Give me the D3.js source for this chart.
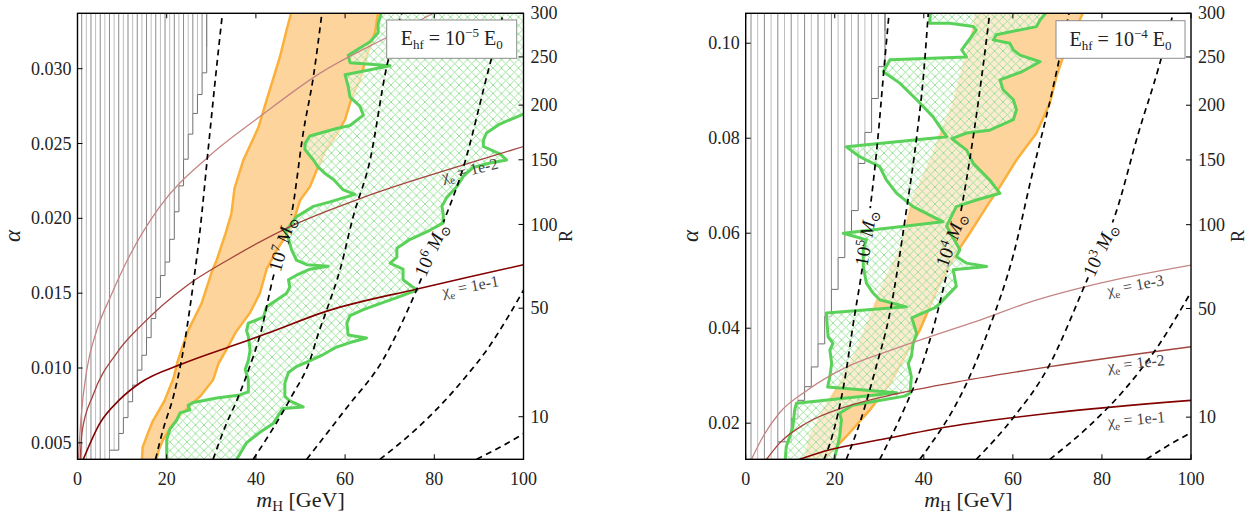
<!DOCTYPE html>
<html><head><meta charset="utf-8">
<script src="https://cdn.jsdelivr.net/npm/d3@7"></script>
<style>
body{margin:0;background:#fff}
text{font-family:"Liberation Serif","DejaVu Serif",serif;fill:#222}
</style>
</head><body>
<svg id="chart" width="1252" height="514"></svg>
<script>
// ---------------- axes / ticks ----------------
const massTicks = [0,20,40,60,80,100];
const rTicks = [10,50,100,150,200,250,300];
const alphaTicksLeft = [0.005,0.010,0.015,0.020,0.025,0.030];
const alphaTicksRight = [0.02,0.04,0.06,0.08,0.10];
const alphaDomainLeft = [0.0039,0.0337];
const alphaDomainRight = [0.0124,0.1063];
// R = k * alpha^2 - rOffset  (right-hand axis)
const rOffset = 2.1;
const kLeft = 266000, kRight = 26735;

// ---------------- left panel (E_hf = 1e-5 E0) ----------------
const leftExclusion = [[7.8,0.0039],[8.2,0.0045],[9.5,0.0059],[11.0,0.0074],[12.5,0.0090],[14.8,0.0112],[17.0,0.0139],[18.5,0.0161],[20.0,0.0174],[21.5,0.0201],[23.0,0.0226],[24.5,0.0252],[26.0,0.0272],[27.5,0.0290],[29.0,0.0315],[29.9,0.0337]];
const leftBandLeft = [[14.4,0.0035],[14.6,0.0047],[15.6,0.0055],[16.8,0.0064],[19.5,0.0078],[21.5,0.0093],[22.5,0.0105],[24.8,0.0125],[27.8,0.0143],[30.2,0.0165],[31.2,0.0172],[33.2,0.0190],[34.5,0.0203],[35.2,0.0220],[37.2,0.0239],[40.6,0.0261],[42.4,0.0279],[45.4,0.0308],[46.9,0.0326],[48.6,0.0345]];
const leftBandRight = [[67.8,0.0345],[66.7,0.0324],[64.8,0.0308],[63.3,0.0292],[61.5,0.0281],[60.0,0.0266],[58.3,0.0257],[55.5,0.0245],[53.6,0.0232],[52.1,0.0221],[49.9,0.0212],[48.0,0.0194],[44.7,0.0179],[42.4,0.0166],[40.9,0.0150],[38.7,0.0137],[35.5,0.0124],[33.5,0.0113],[31.6,0.0103],[30.4,0.0092],[27.5,0.0081],[26.0,0.0077],[23.0,0.0068],[21.0,0.0061],[19.2,0.0052],[18.2,0.0045],[17.4,0.0035]];
const leftSignal = [[20.0,0.0035],[20.0,0.0052],[20.7,0.0059],[22.2,0.0065],[23.0,0.0070],[25.2,0.0072],[24.8,0.0075],[26.0,0.0077],[31.2,0.0080],[36.4,0.0082],[38.3,0.0084],[38.3,0.0092],[37.6,0.0099],[38.3,0.0105],[38.7,0.0112],[38.3,0.0121],[37.9,0.0125],[38.3,0.0130],[41.7,0.0134],[42.4,0.0141],[46.9,0.0150],[47.6,0.0154],[47.3,0.0159],[49.1,0.0162],[52.1,0.0166],[56.2,0.0168],[51.4,0.0169],[49.1,0.0172],[48.0,0.0179],[47.3,0.0186],[46.5,0.0192],[47.3,0.0194],[49.1,0.0201],[52.9,0.0208],[56.6,0.0211],[62.2,0.0216],[59.6,0.0219],[57.4,0.0226],[55.5,0.0230],[54.0,0.0234],[52.9,0.0239],[51.0,0.0246],[51.0,0.0250],[52.1,0.0255],[58.1,0.0260],[61.1,0.0262],[64.1,0.0269],[63.3,0.0275],[61.1,0.0281],[60.7,0.0288],[60.0,0.0296],[70.1,0.0302],[61.1,0.0304],[60.7,0.0309],[65.6,0.0318],[67.4,0.0324],[67.4,0.0330],[68.9,0.0345],[101,0.0345],[101,0.0271],[94.7,0.0263],[91.7,0.0257],[91.0,0.0252],[91.0,0.0248],[94.7,0.0243],[96.2,0.0239],[92.5,0.0237],[88.7,0.0234],[86.5,0.0228],[85.0,0.0221],[82.8,0.0214],[81.7,0.0208],[82.0,0.0203],[82.0,0.0197],[79.0,0.0192],[74.6,0.0186],[71.6,0.0180],[71.6,0.0174],[70.1,0.0170],[73.0,0.0166],[73.0,0.0159],[76.1,0.0152],[71.6,0.0147],[67.8,0.0143],[64.1,0.0139],[61.1,0.0135],[60.4,0.0130],[60.7,0.0122],[64.8,0.0120],[61.1,0.0117],[58.1,0.0114],[55.1,0.0109],[51.4,0.0104],[49.1,0.0101],[47.3,0.0097],[46.5,0.0090],[46.5,0.0081],[47.6,0.0078],[50.6,0.0074],[46.1,0.0073],[45.4,0.0070],[43.9,0.0063],[40.9,0.0057],[37.9,0.0050],[34.9,0.0035]];
const leftMassA = [[17.5,0.0039],[19.2,0.0059],[21.5,0.0081],[23.3,0.0105],[25.9,0.0155],[27.4,0.0190],[29.3,0.0246],[30.8,0.0290],[32.5,0.0337]];
const leftMass7 = [[30.4,0.0039],[33.0,0.0060],[36.1,0.0081],[38.5,0.0100],[41.2,0.0125],[43.9,0.0161],[46.1,0.0183],[48.0,0.0203],[50.6,0.0257],[52.9,0.0295],[54.8,0.0337]];
const leftMassC = [[39.4,0.0039],[48.0,0.0081],[52.1,0.0105],[54.0,0.0123],[55.9,0.0139],[58.9,0.0166],[61.8,0.0201],[65.6,0.0239],[69.3,0.0301],[72.7,0.0337]];
const leftMass6 = [[51.4,0.0039],[60.5,0.0074],[68.4,0.0105],[76.0,0.0152],[81.6,0.0194],[86.5,0.0234],[92.3,0.0301],[95.5,0.0337]];
const leftMassE = [[67.8,0.0039],[75.5,0.0058],[82.0,0.0077],[87.0,0.0094],[92.0,0.0113],[96.5,0.0134],[100,0.0152]];
const leftMassF = [[89.5,0.0039],[94.7,0.0047],[100,0.0056]];
const leftChi3 = [[0.2,0.0039],[0.8,0.0067],[2.1,0.0099],[4.3,0.0125],[7.3,0.0147],[11.5,0.0174],[18.5,0.0208],[29.3,0.0241],[40.9,0.0268],[54.4,0.0297],[70.1,0.0322],[79.8,0.0337]];
const leftChi2 = [[0.6,0.0039],[1.0,0.0057],[3.5,0.0082],[8.8,0.0110],[14.8,0.0130],[24.5,0.0155],[34.2,0.0173],[47.3,0.0194],[64.1,0.0214],[88.0,0.0237],[100,0.0248]];
const leftChi1 = [[1.3,0.0039],[5.0,0.0063],[9.5,0.0079],[14.0,0.0090],[23.7,0.0103],[34.9,0.0115],[42.4,0.0123],[55.9,0.0138],[76.4,0.0153],[88.0,0.0161],[100,0.0169]];

// ---------------- right panel (E_hf = 1e-4 E0) ----------------
const rightExclusion = [[7.6,0.0124],[9.9,0.0200],[11.4,0.0242],[13.6,0.0284],[15.9,0.0354],[18.1,0.0439],[19.6,0.0495],[21.1,0.0565],[21.9,0.0586],[23.8,0.0649],[24.9,0.0733],[26.0,0.0775],[27.9,0.0867],[30.1,0.0965],[32.0,0.1063]];
const rightBandLeft = [[13.0,0.0115],[14.4,0.0172],[17.4,0.0228],[21.1,0.0284],[24.9,0.0354],[27.9,0.0424],[31.6,0.0509],[34.6,0.0565],[36.1,0.0621],[37.6,0.0677],[39.8,0.0719],[42.1,0.0768],[44.3,0.0824],[46.6,0.0874],[48.8,0.0951],[51.1,0.1032],[51.8,0.1090]];
const rightBandRight = [[77.0,0.1090],[71.3,0.0972],[69.8,0.0930],[68.3,0.0874],[65.3,0.0811],[60.8,0.0754],[57.1,0.0698],[54.1,0.0656],[50.3,0.0600],[47.3,0.0558],[43.6,0.0495],[39.1,0.0396],[36.1,0.0347],[32.4,0.0284],[27.9,0.0228],[22.6,0.0172],[18.9,0.0137],[17.0,0.0115]];
const rightSignal = [[41.7,0.1090],[41.3,0.1042],[45.8,0.1042],[51.1,0.1035],[51.8,0.1028],[49.6,0.1000],[48.5,0.0986],[49.6,0.0971],[32.4,0.0965],[30.9,0.0940],[34.6,0.0916],[38.4,0.0881],[42.1,0.0845],[43.6,0.0824],[45.2,0.0803],[22.6,0.0782],[25.6,0.0761],[30.1,0.0740],[31.6,0.0712],[33.9,0.0684],[37.6,0.0656],[44.3,0.0624],[21.9,0.0600],[27.1,0.0586],[26.4,0.0565],[26.4,0.0530],[27.1,0.0495],[28.6,0.0474],[30.1,0.0460],[36.1,0.0445],[18.1,0.0432],[18.5,0.0382],[19.6,0.0368],[18.9,0.0354],[19.3,0.0326],[18.9,0.0298],[18.4,0.0276],[33.9,0.0264],[11.4,0.0242],[11.0,0.0228],[10.6,0.0193],[9.9,0.0172],[9.1,0.0151],[8.8,0.0115],[19.6,0.0115],[20.4,0.0144],[21.1,0.0172],[21.5,0.0207],[21.1,0.0221],[24.0,0.0238],[35.7,0.0257],[36.9,0.0263],[37.2,0.0298],[36.5,0.0326],[37.2,0.0340],[37.6,0.0368],[38.4,0.0389],[37.3,0.0422],[42.9,0.0445],[47.3,0.0488],[46.6,0.0523],[54.1,0.0530],[49.6,0.0537],[47.3,0.0551],[48.1,0.0565],[45.1,0.0615],[47.3,0.0656],[51.8,0.0670],[57.1,0.0684],[54.8,0.0712],[51.1,0.0747],[49.6,0.0775],[46.3,0.0799],[49.6,0.0811],[54.8,0.0817],[60.1,0.0839],[60.8,0.0860],[60.1,0.0881],[57.8,0.0902],[57.1,0.0923],[62.0,0.0940],[66.1,0.0961],[61.6,0.0975],[60.1,0.0986],[59.3,0.1000],[55.6,0.1007],[56.3,0.1018],[65.3,0.1035],[66.1,0.1049],[69.8,0.1090]];
const rightMass5 = [[17.6,0.0124],[19.4,0.0172],[22.1,0.0284],[24.4,0.0424],[25.9,0.0509],[28.0,0.0656],[29.5,0.0782],[31.1,0.0951],[32.2,0.1063]];
const rightMassB = [[22.6,0.0124],[25.6,0.0200],[29.3,0.0319],[32.2,0.0424],[36.1,0.0649],[38.4,0.0803],[39.9,0.0930],[41.0,0.1063]];
const rightMass4 = [[30.1,0.0124],[35.5,0.0228],[39.2,0.0312],[42.0,0.0396],[45.2,0.0516],[48.1,0.0635],[51.1,0.0803],[53.3,0.0951],[54.8,0.1063]];
const rightMassD = [[39.1,0.0124],[49.6,0.0284],[54.8,0.0403],[60.1,0.0554],[64.2,0.0719],[68.4,0.0881],[72.6,0.1063]];
const rightMass3 = [[51.8,0.0124],[60.3,0.0214],[67.6,0.0312],[77.0,0.0509],[83.1,0.0642],[88.2,0.0811],[92.8,0.0951],[96.0,0.1063]];
const rightMassF = [[68.3,0.0124],[77.0,0.0193],[85.0,0.0270],[92.5,0.0361],[100,0.0476]];
const rightMassG = [[90.0,0.0124],[94.5,0.0151],[100,0.0180]];
const rightChi3 = [[1.3,0.0124],[3.9,0.0172],[7.6,0.0222],[13.6,0.0268],[22.6,0.0318],[33.9,0.0358],[43.6,0.0389],[52.6,0.0417],[63.8,0.0455],[79.6,0.0495],[100,0.0533]];
const rightChi2 = [[4.7,0.0124],[7.6,0.0158],[13.6,0.0200],[22.6,0.0235],[33.9,0.0262],[45.8,0.0284],[68.3,0.0319],[100,0.0361]];
const rightChi1 = [[12.1,0.0124],[18.9,0.0144],[30.1,0.0165],[45.8,0.0193],[68.3,0.0221],[100,0.0248]];

// ---------------- drawing ----------------
const svg = d3.select('#chart');
const defs = svg.append('defs');
const TOP = 13.3, BOTTOM = 459.3;

const xh = defs.append('pattern').attr('id','xhatch').attr('patternUnits','userSpaceOnUse')
  .attr('width',8.5).attr('height',8.5);
xh.append('path').attr('d','M-1,-1L9.5,9.5M9.5,-1L-1,9.5')
  .attr('stroke','#8fe08f').attr('stroke-width',0.9).attr('fill','none');

const panels = [
  {id:'L', x0:77.5, x1:523.5, dom:alphaDomainLeft, ticks:alphaTicksLeft, fmt:d3.format('.3f'), k:kLeft,
   excl:leftExclusion, hatchStart:81.7, hatchGap:4.63,
   bandL:leftBandLeft, bandR:leftBandRight, bandLeftOpacity:1,
   signal:leftSignal,
   dashed:[leftMassA,leftMass7,leftMassC,leftMass6,leftMassE,leftMassF],
   chi:[[leftChi3,'#c58585',1.3],[leftChi2,'#a4443f',1.3],[leftChi1,'#820000',1.6]],
   chiLabels:[{t:'1e-2',m:82.0,a:0.02242,r:-14},{t:'1e-1',m:82.0,a:0.01475,r:-11}],
   massLabels:[{e:'7',m:45.9,a:0.0183,r:-74},{e:'6',m:79.3,a:0.0179,r:-66}],
   legendExp:'\u22125', legend:[386.7,20,130,38.3],
   alphaX:20, rX:572, xLabelC:300.5},
  {id:'R', x0:745.7, x1:1191, dom:alphaDomainRight, ticks:alphaTicksRight, fmt:d3.format('.2f'), k:kRight,
   excl:rightExclusion, hatchStart:751, hatchGap:6.7,
   bandL:rightBandLeft, bandR:rightBandRight, bandLeftOpacity:0.35,
   signal:rightSignal,
   dashed:[rightMass5,rightMassB,rightMass4,rightMassD,rightMass3,rightMassF,rightMassG],
   chi:[[rightChi3,'#c58585',1.3],[rightChi2,'#a4443f',1.3],[rightChi1,'#820000',1.6]],
   chiLabels:[{t:'1e-3',m:81.4,a:0.0468,r:-11},{t:'1e-2',m:81.4,a:0.0308,r:-7},{t:'1e-1',m:81.4,a:0.0192,r:-5}],
   massLabels:[{e:'5',m:27.0,a:0.0590,r:-80},{e:'4',m:46.1,a:0.0586,r:-70},{e:'3',m:79.6,a:0.0565,r:-65}],
   legendExp:'\u22124', legend:[1056,20.7,129,37.6],
   alphaX:698, rX:1244, xLabelC:968.4}
];

panels.forEach(p => {
  const x = d3.scaleLinear().domain([0,100]).range([p.x0,p.x1]);
  const y = d3.scaleLinear().domain(p.dom).range([BOTTOM,TOP]);
  const line = d3.line().x(d=>x(d[0])).y(d=>y(d[1]));
  const g = svg.append('g');

  defs.append('clipPath').attr('id','clip'+p.id).append('rect')
    .attr('x',p.x0).attr('y',TOP).attr('width',p.x1-p.x0).attr('height',BOTTOM-TOP);
  const plot = g.append('g').attr('clip-path',`url(#clip${p.id})`);

  // ---- excluded region: vertical hatch lines ending on a stepped boundary ----
  const boundary = d3.scaleLinear().domain(p.excl.map(d=>d[0])).range(p.excl.map(d=>d[1])).clamp(true);
  const mLast = p.excl[p.excl.length-1][0];
  const cols = [];
  for (let px = p.hatchStart; x.invert(px) <= mLast + 1e-9; px += p.hatchGap) {
    const m = x.invert(px);
    cols.push({px, py: m < p.excl[0][0] ? BOTTOM+2 : y(boundary(m))});
  }
  const hg = plot.append('g');
  cols.forEach((c,i) => {
    hg.append('line').attr('x1',c.px).attr('x2',c.px).attr('y1',c.py).attr('y2',TOP-2)
      .attr('stroke', i%2 ? '#bdbdbd' : '#8a8a8a').attr('stroke-width',1);
  });
  let stair = '';
  cols.forEach((c,i) => {
    if (c.py > BOTTOM) return;
    const prev = cols[i-1];
    if (!stair) stair = `M${prev ? prev.px : c.px},${c.py}`;
    else stair += `V${c.py}`;
    const next = cols[i+1];
    stair += `H${next ? next.px : c.px}`;
  });
  stair += `V${TOP-2}`;
  plot.append('path').attr('d',stair).attr('fill','none').attr('stroke','#707070').attr('stroke-width',1);

  // ---- orange band ----
  plot.append('path').attr('d',line(p.bandL.concat(p.bandR))+'Z').attr('fill','#fdd59c');
  plot.append('path').attr('d',line(p.bandL)).attr('fill','none').attr('stroke','#fbb03b')
    .attr('stroke-width',2.5).attr('stroke-opacity',p.bandLeftOpacity);
  plot.append('path').attr('d',line(p.bandR)).attr('fill','none').attr('stroke','#fbb03b').attr('stroke-width',2.5);

  // ---- green hatched signal region ----
  const sd = line(p.signal)+'Z';
  plot.append('path').attr('d',sd).attr('fill','#ffffff').attr('fill-opacity',0.55);
  plot.append('path').attr('d',sd).attr('fill','url(#xhatch)');
  plot.append('path').attr('d',sd).attr('fill','none').attr('stroke','#5ad25a')
    .attr('stroke-width',3).attr('stroke-linejoin','round');

  // ---- chi_e curves ----
  const smooth = d3.line().x(d=>x(d[0])).y(d=>y(d[1])).curve(d3.curveMonotoneX);
  p.chi.forEach(([data,col,w]) => {
    plot.append('path').attr('d',smooth(data)).attr('fill','none').attr('stroke',col).attr('stroke-width',w);
  });

  // ---- dashed mass contours (masked under their labels) ----
  const mask = defs.append('mask').attr('id','mask'+p.id).attr('maskUnits','userSpaceOnUse')
    .attr('x',0).attr('y',0).attr('width',1252).attr('height',514);
  mask.append('rect').attr('width',1252).attr('height',514).attr('fill','white');
  const dg = plot.append('g').attr('mask',`url(#mask${p.id})`);
  p.dashed.forEach(data => {
    dg.append('path').attr('d',smooth(data)).attr('fill','none').attr('stroke','#000')
      .attr('stroke-width',1.7).attr('stroke-dasharray','6,4.5');
  });

  // ---- mass labels ----
  p.massLabels.forEach(L => {
    const tr = `translate(${x(L.m)},${y(L.a)}) rotate(${L.r})`;
    const t = g.append('text').attr('transform',tr).attr('text-anchor','middle')
      .attr('dy','0.33em').style('font-size','19px').style('fill','#111');
    t.append('tspan').text('10');
    t.append('tspan').attr('dy',-7).style('font-size','13px').text(L.e);
    t.append('tspan').attr('dy',7).text('\u2009');
    t.append('tspan').style('font-style','italic').text('M');
    t.append('tspan').attr('dy',4).style('font-size','13px').text('\u2299');
    const bb = t.node().getBBox();
    mask.append('rect').attr('transform',tr).attr('x',bb.x-2).attr('y',bb.y+1)
      .attr('width',bb.width+4).attr('height',bb.height-2).attr('fill','black');
  });

  // ---- chi labels ----
  p.chiLabels.forEach(L => {
    const t = g.append('text').attr('transform',`translate(${x(L.m)},${y(L.a)}) rotate(${L.r})`)
      .style('font-size','16px').style('fill','#444');
    t.append('tspan').text('\u03c7');
    t.append('tspan').attr('dy',4).style('font-size','11px').text('e');
    t.append('tspan').attr('dy',-4).text(' = ' + L.t);
  });

  // ---- frame ----
  g.append('rect').attr('x',p.x0).attr('y',TOP).attr('width',p.x1-p.x0).attr('height',BOTTOM-TOP)
    .attr('fill','none').attr('stroke','#000').attr('stroke-width',1.4);

  // ---- ticks ----
  const tk = g.append('g').attr('stroke','#000').attr('stroke-width',1);
  massTicks.forEach(v => {
    tk.append('line').attr('x1',x(v)).attr('x2',x(v)).attr('y1',BOTTOM).attr('y2',BOTTOM-5);
    tk.append('line').attr('x1',x(v)).attr('x2',x(v)).attr('y1',TOP).attr('y2',TOP+5);
    g.append('text').attr('x',x(v)).attr('y',485).attr('text-anchor','middle').style('font-size','18px').text(v);
  });
  p.ticks.forEach(v => {
    tk.append('line').attr('x1',p.x0).attr('x2',p.x0+5).attr('y1',y(v)).attr('y2',y(v));
    g.append('text').attr('x',p.x0-6).attr('y',y(v)).attr('dy','0.34em').attr('text-anchor','end')
      .style('font-size','18px').text(p.fmt(v));
  });
  const rToAlpha = R => Math.sqrt((R + rOffset)/p.k);
  rTicks.forEach(R => {
    const yy = y(rToAlpha(R));
    tk.append('line').attr('x1',p.x1-5).attr('x2',p.x1).attr('y1',yy).attr('y2',yy);
    g.append('text').attr('x',p.x1+7).attr('y',yy).attr('dy','0.34em').attr('text-anchor','start')
      .style('font-size','18px').text(R);
  });

  // ---- axis titles ----
  g.append('text').attr('transform',`translate(${p.alphaX},236) rotate(-90)`).attr('text-anchor','middle')
    .style('font-size','23px').style('font-style','italic').text('\u03b1');
  g.append('text').attr('transform',`translate(${p.rX},236) rotate(-90)`).attr('text-anchor','middle')
    .style('font-size','18px').text('R');
  const xl = g.append('text').attr('x',p.xLabelC).attr('y',507).attr('text-anchor','middle').style('font-size','22px');
  xl.append('tspan').style('font-style','italic').text('m');
  xl.append('tspan').attr('dy',4).style('font-size','15px').text('H');
  xl.append('tspan').attr('dy',-4).text(' [GeV]');

  // ---- legend box ----
  const [lx,ly,lw,lh] = p.legend;
  g.append('rect').attr('x',lx).attr('y',ly).attr('width',lw).attr('height',lh)
    .attr('fill','#fff').attr('stroke','#8c8c8c').attr('stroke-width',1);
  const lt = g.append('text').attr('x',lx+lw/2).attr('y',ly+25).attr('text-anchor','middle').style('font-size','20px');
  lt.append('tspan').text('E');
  lt.append('tspan').attr('dy',4).style('font-size','13px').text('hf');
  lt.append('tspan').attr('dy',-4).text(' = 10');
  lt.append('tspan').attr('dy',-8).style('font-size','13px').text(p.legendExp);
  lt.append('tspan').attr('dy',8).text(' E');
  lt.append('tspan').attr('dy',4).style('font-size','13px').text('0');
});
</script>
</body></html>
